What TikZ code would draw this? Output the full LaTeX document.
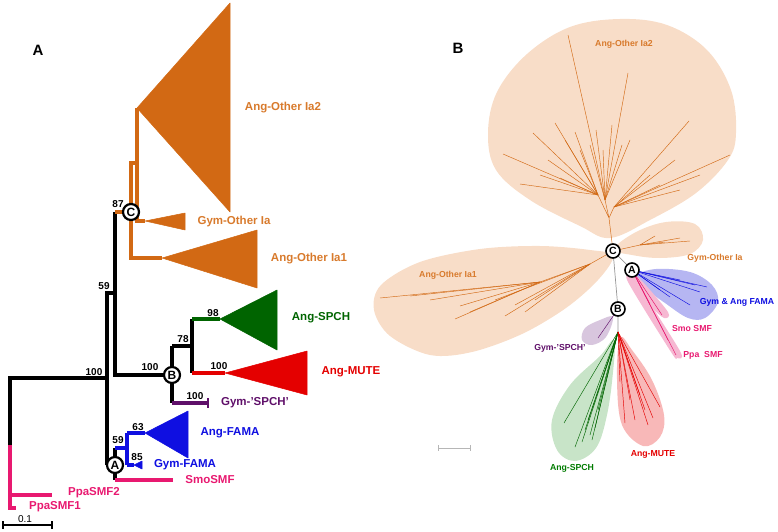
\documentclass[tikz,border=0pt]{standalone}
\usepackage{fontspec}
\setmainfont{Liberation Sans}
\definecolor{cOr}{RGB}{210,105,20}
\definecolor{cOrL}{RGB}{216,122,44}
\definecolor{cGr}{RGB}{0,100,0}
\definecolor{cRd}{RGB}{228,0,0}
\definecolor{cBl}{RGB}{15,15,225}
\definecolor{cPu}{RGB}{95,15,105}
\definecolor{cPk}{RGB}{232,25,112}
\definecolor{fOr}{RGB}{248,221,200}
\definecolor{fBl}{RGB}{182,182,242}
\definecolor{fPk}{RGB}{246,184,210}
\definecolor{fPu}{RGB}{216,198,222}
\definecolor{fGr}{RGB}{200,228,200}
\definecolor{fRd}{RGB}{248,184,184}
\definecolor{cGy}{RGB}{150,150,150}
\begin{document}
\begin{tikzpicture}[x=1pt,y=-1pt,
  br/.style={line width=3.4pt,line join=miter},
  brk/.style={br,black},
  bro/.style={br,cOr},
  brg/.style={br,cGr},
  brr/.style={br,cRd},
  brb/.style={br,cBl},
  brpu/.style={br,cPu},
  brp/.style={br,cPk},
  tri/.style={draw,line width=0.5pt,line join=round},
  lbl/.style={font=\fontsize{11.5}{12}\selectfont\bfseries,inner sep=0pt},
  num/.style={font=\fontsize{10}{11}\selectfont\bfseries,inner sep=0pt,text=black},
  blbl/.style={font=\fontsize{8.7}{9}\selectfont\bfseries,inner sep=0pt},
  circA/.style={circle,draw=black,line width=2.2pt,fill=white,minimum size=16pt,inner sep=0pt,font=\fontsize{12}{12}\selectfont\bfseries},
  circB/.style={circle,draw=black,line width=1.6pt,fill=white,minimum size=14pt,inner sep=0pt,font=\fontsize{10.5}{10.5}\selectfont\bfseries},
  tO/.style={cOr,line width=0.45pt},
  tG/.style={cGr,line width=0.45pt},
  tR/.style={cRd,line width=0.45pt},
  tB/.style={cBl,line width=0.45pt},
  tP/.style={cPk,line width=0.45pt},
  tGy/.style={cGy,line width=0.7pt}]
\useasboundingbox (0,0) rectangle (778,532);

% ================= Panel A =================
\node[font=\fontsize{15}{15}\selectfont\bfseries] (labA) at (38,50) {A};

% coordinates
\coordinate (root) at (10,378);
\coordinate (n100) at (107,378);
\coordinate (pk) at (10,445);
\coordinate (ppa2) at (10,495);
\coordinate (ppa2e) at (52,495);
\coordinate (ppa1) at (10,508);
\coordinate (ppa1e) at (16,508);
\coordinate (n59t) at (107,293);
\coordinate (n59b) at (107,465);
\coordinate (n59r) at (115,293);
\coordinate (n87) at (115,212);
\coordinate (nBl) at (115,375);
\coordinate (c1) at (131,163);
\coordinate (c2) at (131,258);
\coordinate (c3) at (137,163);
\coordinate (c4) at (137,108);
\coordinate (c5) at (137,221);
\coordinate (gyo) at (145,221);
\coordinate (ia1) at (162,258);
\coordinate (b1) at (172,346);
\coordinate (b2) at (172,403);
\coordinate (n78) at (192,346);
\coordinate (n78t) at (192,319);
\coordinate (n78b) at (192,373);
\coordinate (spa) at (220,319);
\coordinate (mua) at (225,373);
\coordinate (gsp) at (208,403);
\coordinate (a1) at (115,448);
\coordinate (a2) at (115,480);
\coordinate (a3) at (127,448);
\coordinate (a4) at (127,433);
\coordinate (a5) at (127,465);
\coordinate (fa) at (145,433);
\coordinate (gf) at (134,465);
\coordinate (smo) at (173,480);

% triangles (collapsed clades)
\filldraw[tri,draw=cOr,fill=cOr] (c4) -- (230,3) -- (230,212) -- cycle;
\filldraw[tri,draw=cOr,fill=cOr] (gyo) -- (185,213) -- (185,230) -- cycle;
\filldraw[tri,draw=cOr,fill=cOr] (ia1) -- (257,230) -- (257,288) -- cycle;
\filldraw[tri,draw=cGr,fill=cGr] (spa) -- (277,290) -- (277,350) -- cycle;
\filldraw[tri,draw=cRd,fill=cRd] (mua) -- (307,351) -- (307,395) -- cycle;
\filldraw[tri,draw=cBl,fill=cBl] (fa) -- (188,411) -- (188,458) -- cycle;
\filldraw[tri,draw=cBl,fill=cBl] (gf) -- (142,461) -- (142,469) -- cycle;

% branches
\draw[brp] (pk) -- (ppa1) -- (ppa1e);
\draw[brp] (ppa2) -- (ppa2e);
\draw[brk] (pk) -- (root) -- (n100);
\draw[brk] (n59b) -- (n59t) -- (n59r);
\draw[brk] (n87) -- (nBl) -- (172,375);
\draw[bro] (n87) -- (131,212);
\draw[bro] (ia1) -- (c2) -- (c1) -- (c3);
\draw[bro] (c4) -- (c5) -- (gyo);
\draw[brk] (b1) -- (b2);
\draw[brk] (b1) -- (n78);
\draw[brk] (n78t) -- (n78b);
\draw[brg] (n78t) -- (spa);
\draw[brr] (n78b) -- (mua);
\draw[brpu] (b2) -- (gsp);
\draw[cPu,line width=1.4pt] (208,398) -- (208,408);
\draw[brk] (a1) -- (a2);
\draw[brb] (a1) -- (a3);
\draw[brb] (a4) -- (a5);
\draw[brb] (a4) -- (fa);
\draw[brb] (a5) -- (gf);
\draw[brp] (a2) -- (smo);

% circled nodes
\node[circA] (CA) at (131,212) {C};
\node[circA] (BA) at (172,375) {B};
\node[circA] (AA) at (115,465) {A};

% support values
\node[num] (s1) at (94,372) {100};
\node[num] (s2) at (104,286) {59};
\node[num] (s3) at (118,204) {87};
\node[num] (s4) at (150,367) {100};
\node[num] (s5) at (183,339) {78};
\node[num] (s6) at (213,313) {98};
\node[num] (s7) at (219,366) {100};
\node[num] (s8) at (195,396) {100};
\node[num] (s9) at (138,427) {63};
\node[num] (s10) at (118,440) {59};
\node[num] (s11) at (137,457) {85};

% clade labels
\node[lbl,text=cOrL] (l1) at (283,108) {Ang-Other Ia2};
\node[lbl,text=cOrL] (l2) at (234,222) {Gym-Other Ia};
\node[lbl,text=cOrL] (l3) at (309,259) {Ang-Other Ia1};
\node[lbl,text=cGr] (l4) at (321,318) {Ang-SPCH};
\node[lbl,text=cRd] (l5) at (351,372) {Ang-MUTE};
\node[lbl,text=cPu] (l6) at (255,403) {Gym-'SPCH'};
\node[lbl,text=cBl] (l7) at (230,433) {Ang-FAMA};
\node[lbl,text=cBl] (l8) at (185,465) {Gym-FAMA};
\node[lbl,text=cPk] (l9) at (210,480) {SmoSMF};
\node[lbl,text=cPk] (l10) at (94,493) {PpaSMF2};
\node[lbl,text=cPk] (l11) at (55,507) {PpaSMF1};

% scale bar
\node[font=\fontsize{10}{10}\selectfont,inner sep=0pt] (sc) at (25,519) {0.1};
\draw[black,line width=1.6pt] (3,525) -- (52,525);
\draw[black,line width=1.3pt] (3,521) -- (3,529) (52,521) -- (52,529);

% ================= Panel B =================
\node[font=\fontsize{15}{15}\selectfont\bfseries] (labB) at (458,48) {B};

% blobs
\fill[fOr] plot[smooth cycle,tension=0.6] coordinates {(610,238) (580,226) (530,200) (496,170) (488,133) (497,92) (527,54) (570,27) (620,19) (667,25) (707,50) (731,90) (736,133) (728,160) (696,193) (650,220)};
\fill[fOr] plot[smooth cycle,tension=0.6] coordinates {(614,249) (636,232) (666,222) (695,224) (703,240) (690,254) (660,258) (632,255)};
\fill[fOr] plot[smooth cycle,tension=0.55] coordinates {(613,256) (590,250) (540,246) (480,249) (420,262) (381,285) (374,310) (390,336) (430,355) (472,352) (522,334) (566,308) (598,280)};
\fill[fBl] plot[smooth cycle,tension=0.6] coordinates {(636,276) (656,269) (690,272) (712,285) (718,302) (705,318) (688,318) (665,303) (645,288)};
\fill[fPk] plot[smooth cycle,tension=0.5] coordinates {(631,276) (640,279) (668,312) (664,318) (650,306) (629,283)};
\fill[fPk] plot[smooth cycle,tension=0.5] coordinates {(628,282) (636,283) (680,351) (677,358) (671,352)};
\fill[fPu] plot[smooth cycle,tension=0.6] coordinates {(613,317) (600,320) (585,328) (582,340) (592,345) (606,337)};
\fill[fGr] plot[smooth cycle,tension=0.6] coordinates {(614,340) (600,356) (570,385) (552,420) (557,450) (575,461) (596,448) (607,415) (613,372)};
\fill[fRd] plot[smooth cycle,tension=0.6] coordinates {(620,338) (617,380) (622,425) (643,446) (660,437) (664,415) (652,380) (632,350)};

% circled nodes positions
\coordinate (pC) at (613,251);
\coordinate (pA) at (632,270);
\coordinate (pB) at (618,309);

% Ang-Other Ia2 branches
\coordinate (hs) at (609,218);
\coordinate (hL) at (598,195);
\coordinate (hM) at (605,200);
\coordinate (hR) at (614,207);
\draw[tO] (pC) -- (hs) (hs) -- (hL) (hs) -- (hM) (hs) -- (hR);
\foreach \p in {(503,154),(520,184),(533,133),(555,123),(565,140),(580,150),(540,175),(560,178),(548,160),(575,132)}
  \draw[tO] (hL) -- \p;
\foreach \p in {(568,35),(596,130),(590,145),(628,73),(622,145),(630,140),(612,125),(603,150)}
  \draw[tO] (hM) -- \p;
\foreach \p in {(689,121),(730,155),(700,175),(680,190),(660,185),(675,160),(650,175)}
  \draw[tO] (hR) -- \p;

% Gym-Other Ia branches
\coordinate (go) at (640,245);
\draw[tO] (pC) -- (go);
\foreach \p in {(680,238),(665,242),(690,241),(655,236)}
  \draw[tO] (go) -- \p;

% Ang-Other Ia1 branches
\coordinate (i1) at (590,264);
\coordinate (i2) at (540,282);
\draw[tO] (pC) -- (i1) -- (i2);
\foreach \p in {(380,298),(455,319),(430,300),(460,306),(410,296),(470,312)}
  \draw[tO] (i2) -- \p;
\foreach \p in {(505,316),(525,312),(495,300),(515,305),(535,300)}
  \draw[tO] (i1) -- \p;

% central gray trunk
\coordinate (pS) at (618,332);
\draw[tGy] (pC) -- (pA);
\draw[tGy] (pC) -- (pB) -- (pS);

% FAMA and SMF branches
\foreach \p in {(707,287),(690,305),(670,297),(680,280),(695,285),(660,290),(700,292)}
  \draw[tB] (pA) -- \p;
\foreach \p in {(662,315),(676,355),(650,304),(668,340)}
  \draw[tP] (pA) -- \p;

% Gym-SPCH
\draw[cPu,line width=0.45pt] (pB) -- (598,338);

% Ang-SPCH branches
\foreach \p in {(564,423),(575,447),(590,435),(585,430),(595,428),(592,440),(598,410),(582,442),(588,420)}
  \draw[tG] (pS) -- \p;
% Ang-MUTE branches
\foreach \p in {(625,423),(653,418),(660,407),(645,410),(635,420),(640,395),(630,400),(620,382),(648,425)}
  \draw[tR] (pS) -- \p;

% circles
\node[circB] (CB) at (pC) {C};
\node[circB] (AB) at (pA) {A};
\node[circB] (BB) at (pB) {B};

% labels
\node[blbl,text=cOrL] (m1) at (624,44) {Ang-Other Ia2};
\node[blbl,text=cOrL] (m2) at (715,258) {Gym-Other Ia};
\node[blbl,text=cOrL] (m3) at (448,275) {Ang-Other Ia1};
\node[blbl,text=cBl] (m4) at (737,302) {Gym \& Ang FAMA};
\node[blbl,text=cPk] (m5) at (692,329) {Smo SMF};
\node[blbl,text=cPk] (m6) at (703,355) {Ppa\ \ SMF};
\node[blbl,text=cPu] (m7) at (560,348) {Gym-'SPCH'};
\node[blbl,text=cGr!85!green] (m8) at (572,468) {Ang-SPCH};
\node[blbl,text=cRd] (m9) at (653,454) {Ang-MUTE};

% scale bar B
\draw[cGy!70,line width=0.7pt] (438,448) -- (470,448);
\draw[cGy!70,line width=0.7pt] (438,445) -- (438,451) (470,445) -- (470,451);
\end{tikzpicture}
\end{document}
